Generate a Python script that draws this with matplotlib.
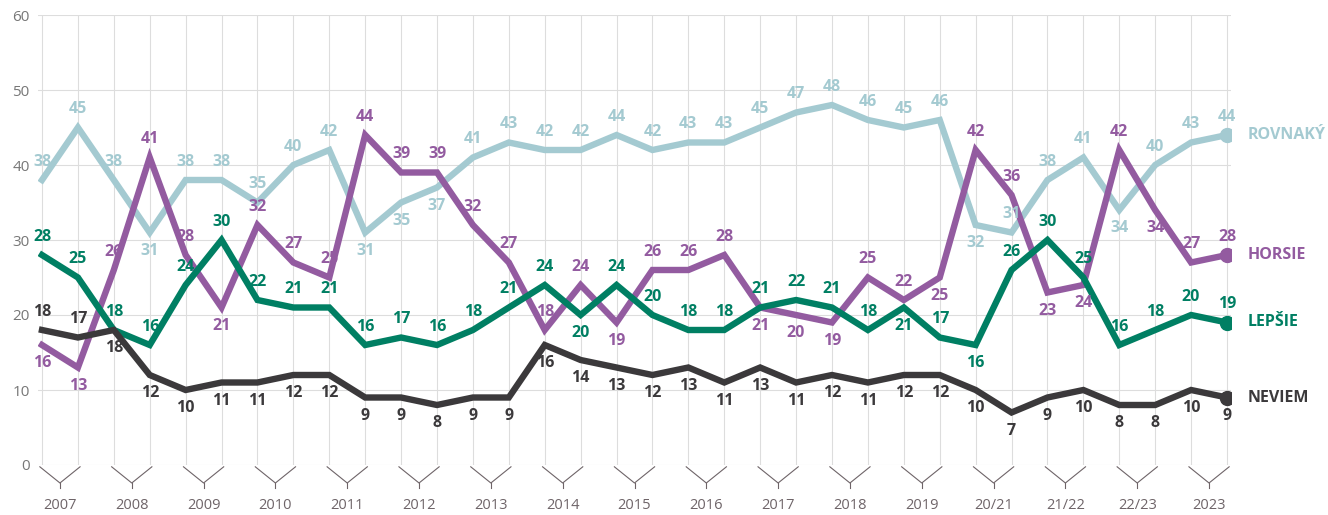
import matplotlib
matplotlib.use("Agg")
import matplotlib.pyplot as plt
import matplotlib.transforms as mtransforms

plt.rcParams['font.family'] = ['Open Sans', 'DejaVu Sans']

groups = ['2007', '2008', '2009', '2010', '2011', '2012', '2013', '2014', '2015',
          '2016', '2017', '2018', '2019', '20/21', '21/22', '22/23', '2023']

rovnaky = [38, 45, 38, 31, 38, 38, 35, 40, 42, 31, 35, 37, 41, 43, 42, 42, 44,
           42, 43, 43, 45, 47, 48, 46, 45, 46, 32, 31, 38, 41, 34, 40, 43, 44]
horsie = [16, 13, 26, 41, 28, 21, 32, 27, 25, 44, 39, 39, 32, 27, 18, 24, 19,
          26, 26, 28, 21, 20, 19, 25, 22, 25, 42, 36, 23, 24, 42, 34, 27, 28]
lepsie = [28, 25, 18, 16, 24, 30, 22, 21, 21, 16, 17, 16, 18, 21, 24, 20, 24,
          20, 18, 18, 21, 22, 21, 18, 21, 17, 16, 26, 30, 25, 16, 18, 20, 19]
neviem = [18, 17, 18, 12, 10, 11, 11, 12, 12, 9, 9, 8, 9, 9, 16, 14, 13,
          12, 13, 11, 13, 11, 12, 11, 12, 12, 10, 7, 9, 10, 8, 8, 10, 9]

n = len(rovnaky)
# indices whose value label sits below the line
below_rov = {3, 9, 10, 11, 26, 30}
below_hor = {0, 1, 5, 16, 20, 21, 22, 25, 28, 29, 31}
below_lep = {15, 24, 26}
below_nev = set(range(2, n))

series = [
    ('ROVNAKÝ', rovnaky, '#a4cad1', below_rov),
    ('HORSIE', horsie, '#935ba0', below_hor),
    ('LEPŠIE', lepsie, '#007f63', below_lep),
    ('NEVIEM', neviem, '#3b393b', below_nev),
]

fig = plt.figure(figsize=(13.28, 5.15), dpi=100)
ax = fig.add_axes([38 / 1328, 50 / 515, (1231 - 38) / 1328, 450 / 515])

x = list(range(n))
for name, vals, col, below in series:
    ax.plot(x, vals, color=col, lw=4.6, solid_joinstyle='miter', zorder=3)
    ax.plot(x[-1], vals[-1], 'o', color=col, ms=10, zorder=4)
    for i, v in enumerate(vals):
        off = -13 if i in below else 13
        ax.annotate(str(v), (i, v), xytext=(0, off), textcoords='offset points',
                    ha='center', va='center', fontsize=11.5, fontweight='bold',
                    color=col, zorder=5)
    ax.annotate(name, (x[-1], vals[-1]), xytext=(15, 0), textcoords='offset points',
                ha='left', va='center', fontsize=11.5, fontweight='bold',
                color=col, annotation_clip=False)

ax.set_xlim(-4 / 35.9, 33 + 4 / 35.9)
ax.set_ylim(0, 60)
ax.set_yticks(range(0, 61, 10))
ax.set_xticks(x)
ax.set_xticklabels([])
ax.tick_params(axis='x', length=0)
ax.tick_params(axis='y', length=0, labelsize=11, labelcolor='#777777', pad=6)
ax.grid(True, color='#dddddd', lw=0.8, zorder=0)
for s in ax.spines.values():
    s.set_visible(False)

# grouped category axis with V-shaped brackets
trans = mtransforms.blended_transform_factory(ax.transData, ax.transAxes)
for g, label in enumerate(groups):
    x0 = 2 * g - 0.06
    x1 = 2 * g + 1.06
    xm = 2 * g + 0.5
    ax.plot([x0, xm, x1], [-0.004, -0.04, -0.004], color='#6e6468', lw=0.8,
            transform=trans, clip_on=False)
    ax.plot([xm, xm], [-0.04, -0.052], color='#6e6468', lw=0.8,
            transform=trans, clip_on=False)
    ax.text(xm, -0.089, label, transform=trans, ha='center', va='center',
            fontsize=10.5, color='#6e6468')

fig.savefig('out.png', dpi=100)
